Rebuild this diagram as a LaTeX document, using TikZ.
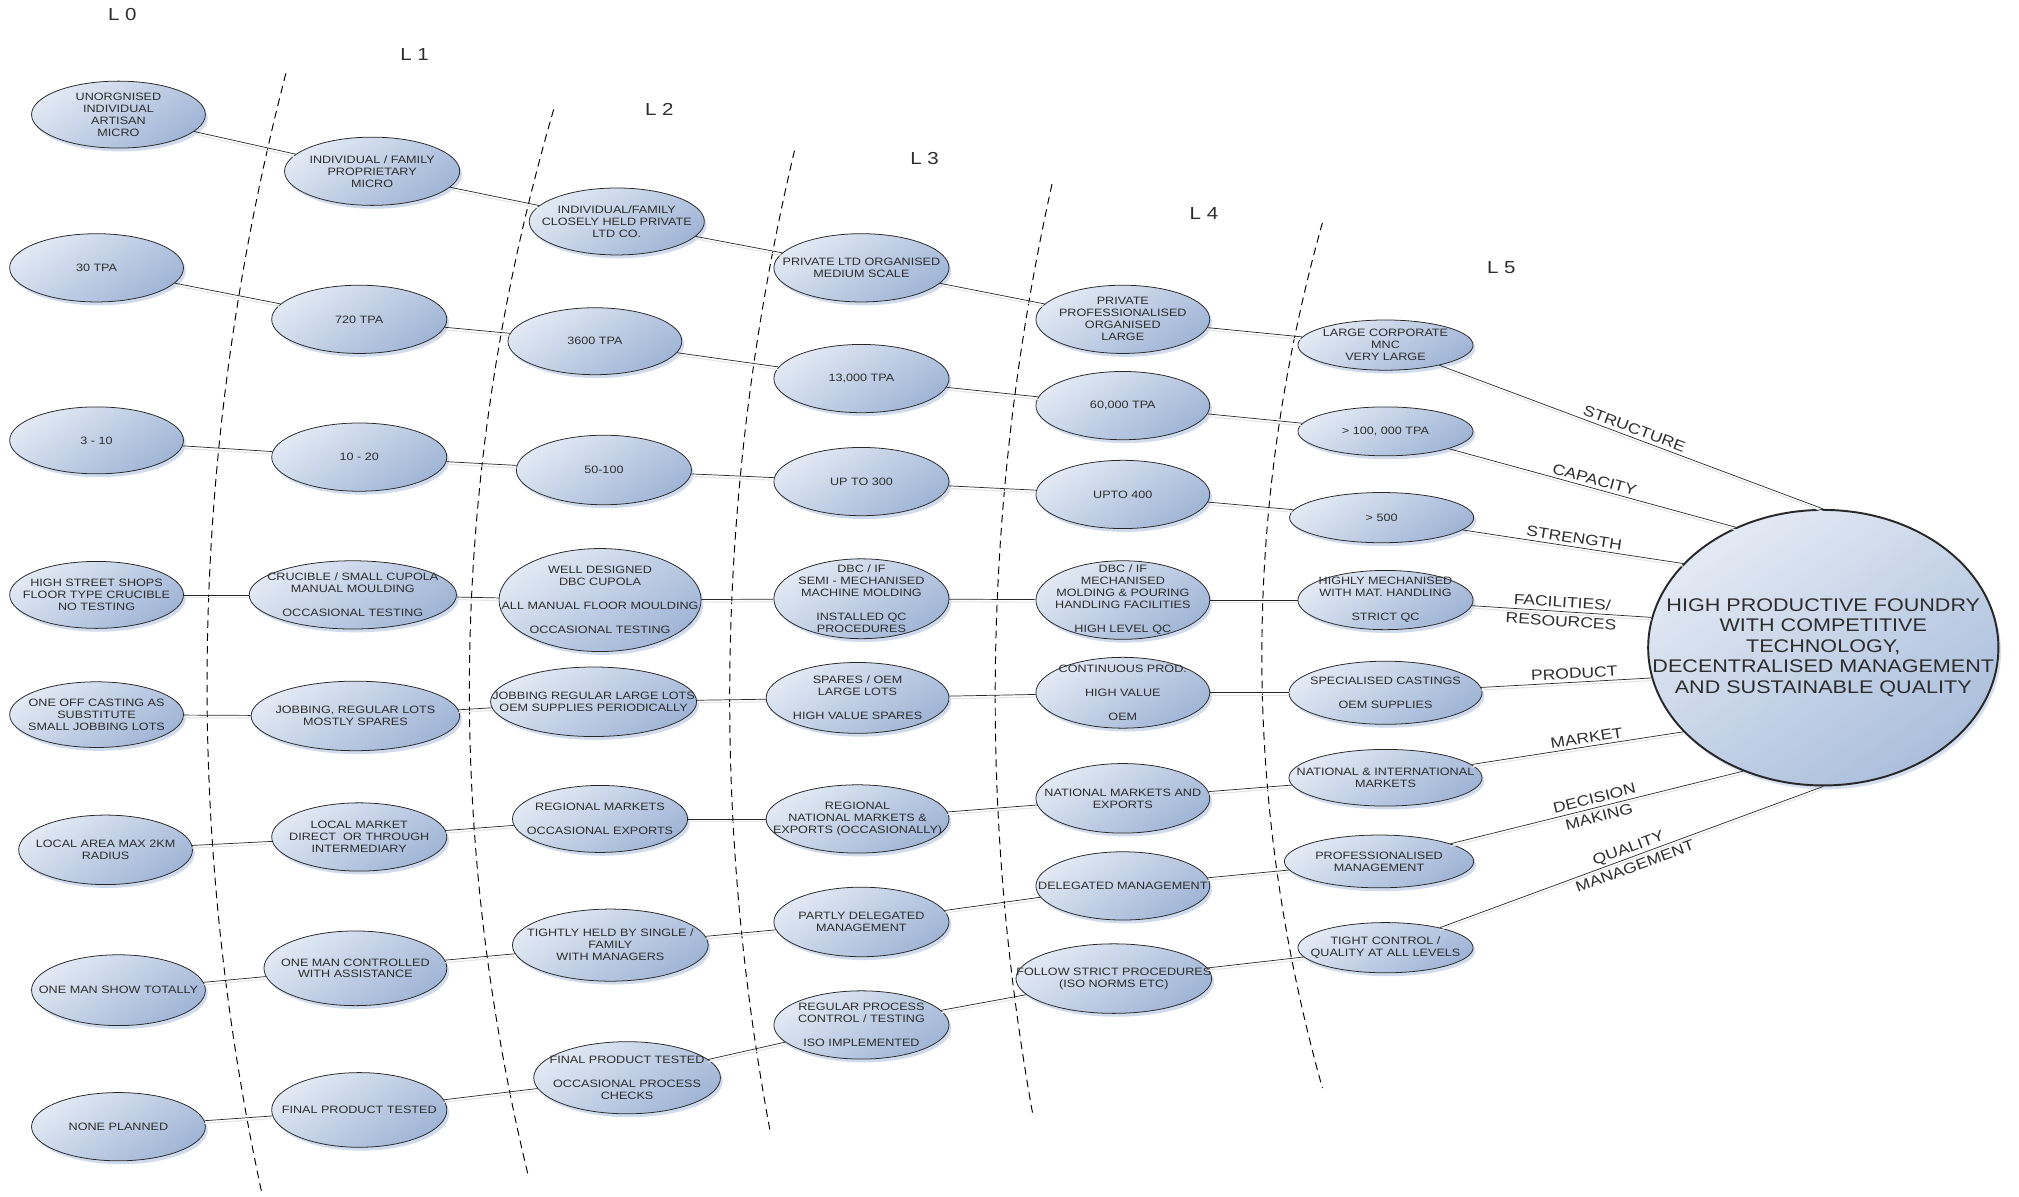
\documentclass[tikz,border=0pt]{standalone}
\usepackage{fontspec}
\setmainfont{Liberation Sans}[FakeStretch=1.18]
\usetikzlibrary{shapes.geometric,shadows}
\definecolor{elltop}{RGB}{226,233,244}
\definecolor{ellbot}{RGB}{160,181,214}
\definecolor{shd}{RGB}{196,210,232}
\definecolor{edgec}{RGB}{40,40,40}
\definecolor{bigtop}{RGB}{228,234,244}
\definecolor{bigbot}{RGB}{170,190,220}
\definecolor{inkc}{RGB}{45,45,45}
\newcommand\ovalnode[5]{%
  \node[oval, minimum width=#3pt, minimum height=#4pt] (#1) at #2 {};
  \node[txt] (#1t) at (#1.center) {#5};}
\tikzset{
  oval/.style={ellipse, draw=edgec, line width=0.6pt, top color=elltop, bottom color=ellbot,
    shading angle=35, inner sep=0pt,
    drop shadow={shadow xshift=1.8pt, shadow yshift=-2.6pt, fill=shd, opacity=0.8}},
  bigoval/.style={ellipse, draw=edgec, line width=1.5pt, top color=bigtop, bottom color=bigbot,
    shading angle=35, inner sep=0pt,
    drop shadow={shadow xshift=2pt, shadow yshift=-3pt, fill=shd, opacity=0.7}},
  txt/.style={align=center, inner sep=0pt, text=inkc, font=\fontsize{8.3}{9.3}\selectfont},
  bigtxt/.style={align=center, inner sep=0pt, text=inkc, font=\fontsize{14.2}{16}\selectfont},
  conn/.style={draw=edgec, line width=0.55pt,
    preaction={draw=black!10, line width=0.9pt, transform canvas={yshift=-2pt}}},
  dashsep/.style={draw=black, line width=0.75pt, dash pattern=on 6pt off 4pt},
  lbl/.style={font=\fontsize{11.5}{14}\selectfont, inner sep=2.5pt, text=inkc},
  lbltwo/.style={font=\fontsize{11.5}{15}\selectfont, inner sep=0pt, align=center, text=inkc},
  lvl/.style={font=\fontsize{13.5}{15}\selectfont, text=inkc}
}
\begin{document}
\begin{tikzpicture}[x=1pt,y=-1pt]
\useasboundingbox (0,0) rectangle (1568,929);

% level separators
\draw[dashsep] (222,57) .. controls (147.3,346.3) and (141,635.7) .. (203,925);
\draw[dashsep] (430,85) .. controls (350,360.3) and (343.3,636) .. (410,912);
\draw[dashsep] (617,117) .. controls (557,370.3) and (550.7,624) .. (598,878);
\draw[dashsep] (817,143) .. controls (763.7,383.7) and (758.7,624.3) .. (802,865);
\draw[dashsep] (1027,173) .. controls (964.3,397) and (964.3,621) .. (1027,845);

% level labels
\node[lvl] (l0) at (95,11) {L 0};
\node[lvl] (l1) at (322,42) {L 1};
\node[lvl] (l2) at (512,85) {L 2};
\node[lvl] (l3) at (718,123) {L 3};
\node[lvl] (l4) at (935,166) {L 4};
\node[lvl] (l5) at (1166,208) {L 5};

% L0
\ovalnode{a1}{(92,89)}{135}{52}{UNORGNISED\\INDIVIDUAL\\ARTISAN\\MICRO}
\ovalnode{a2}{(75,208)}{135}{53}{30 TPA}
\ovalnode{a3}{(75,342)}{135}{52}{3 - 10}
\ovalnode{a4}{(75,462)}{135}{52}{HIGH STREET SHOPS\\FLOOR TYPE CRUCIBLE\\NO TESTING}
\ovalnode{a5}{(75,555)}{135}{51}{ONE OFF CASTING AS\\SUBSTITUTE\\SMALL JOBBING LOTS}
\ovalnode{a6}{(82,660)}{135}{54}{LOCAL AREA MAX 2KM\\RADIUS}
\ovalnode{a7}{(92,769)}{135}{55}{ONE MAN SHOW TOTALLY}
\ovalnode{a8}{(92,875)}{135}{53}{NONE PLANNED}

% L1
\ovalnode{b1}{(289,133)}{136}{53}{INDIVIDUAL / FAMILY\\PROPRIETARY\\MICRO}
\ovalnode{b2}{(279,248)}{136}{53}{720 TPA}
\ovalnode{b3}{(279,355)}{136}{53}{10 - 20}
\ovalnode{b4}{(274,462)}{161}{53}{CRUCIBLE / SMALL CUPOLA\\MANUAL MOULDING\\[9.3pt]OCCASIONAL TESTING}
\ovalnode{b5}{(276,556)}{162}{54}{JOBBING, REGULAR LOTS\\MOSTLY SPARES}
\ovalnode{b6}{(279,650)}{136}{53}{LOCAL MARKET\\DIRECT~ OR THROUGH\\INTERMEDIARY}
\ovalnode{b7}{(276,752)}{142}{58}{ONE MAN CONTROLLED\\WITH ASSISTANCE}
\ovalnode{b8}{(279,862)}{136}{58}{FINAL PRODUCT TESTED}

% L2
\ovalnode{c1}{(479,172)}{136}{52}{INDIVIDUAL/FAMILY\\CLOSELY HELD PRIVATE\\LTD CO.}
\ovalnode{c2}{(462,265)}{135}{52}{3600 TPA}
\ovalnode{c3}{(469,365)}{136}{54}{50-100}
\ovalnode{c4}{(466,466)}{157}{80}{WELL DESIGNED\\DBC CUPOLA\\[9.3pt]ALL MANUAL FLOOR MOULDING\\[9.3pt]OCCASIONAL TESTING}
\ovalnode{c5}{(461,545)}{160}{54}{JOBBING REGULAR LARGE LOTS\\OEM SUPPLIES PERIODICALLY}
\ovalnode{c6}{(466,636)}{136}{52}{REGIONAL MARKETS\\[9.3pt]OCCASIONAL EXPORTS}
\ovalnode{c7}{(474,734)}{152}{56}{TIGHTLY HELD BY SINGLE /\\FAMILY\\WITH MANAGERS}
\ovalnode{c8}{(487,837)}{145}{56}{FINAL PRODUCT TESTED\\[9.3pt]OCCASIONAL PROCESS\\CHECKS}

% L3
\ovalnode{d1}{(669,208)}{136}{53}{PRIVATE LTD ORGANISED\\MEDIUM SCALE}
\ovalnode{d2}{(669,294)}{136}{53}{13,000 TPA}
\ovalnode{d3}{(669,374)}{136}{53}{UP TO 300}
\ovalnode{d4}{(669,465)}{136}{62}{DBC / IF\\SEMI - MECHANISED\\MACHINE MOLDING\\[9.3pt]INSTALLED QC\\PROCEDURES}
\ovalnode{d5}{(666,542)}{142}{55}{SPARES / OEM\\LARGE LOTS\\[9.3pt]HIGH VALUE SPARES}
\ovalnode{d6}{(666,636)}{142}{53}{REGIONAL\\NATIONAL MARKETS \&\\EXPORTS (OCCASIONALLY)}
\ovalnode{d7}{(669,716)}{136}{54}{PARTLY DELEGATED\\MANAGEMENT}
\ovalnode{d8}{(669,796)}{136}{53}{REGULAR PROCESS\\CONTROL / TESTING\\[9.3pt]ISO IMPLEMENTED}

% L4
\ovalnode{e1}{(872,248)}{135}{53}{PRIVATE\\PROFESSIONALISED\\ORGANISED\\LARGE}
\ovalnode{e2}{(872,315)}{135}{53}{60,000 TPA}
\ovalnode{e3}{(872,384)}{135}{53}{UPTO 400}
\ovalnode{e4}{(872,466)}{135}{61}{DBC / IF\\MECHANISED\\MOLDING \& POURING\\HANDLING FACILITIES\\[9.3pt]HIGH LEVEL QC}
\ovalnode{e5}{(872,538)}{135}{55}{CONTINUOUS PROD.\\[9.3pt]HIGH VALUE\\[9.3pt]OEM}
\ovalnode{e6}{(872,620)}{135}{54}{NATIONAL MARKETS AND\\EXPORTS}
\ovalnode{e7}{(872,688)}{135}{53}{DELEGATED MANAGEMENT}
\ovalnode{e8}{(865,760)}{152}{54}{FOLLOW STRICT PROCEDURES\\(ISO NORMS ETC)}

% L5
\ovalnode{f1}{(1076,268)}{136}{39}{LARGE CORPORATE\\MNC\\VERY LARGE}
\ovalnode{f2}{(1076,335)}{136}{38}{> 100, 000 TPA}
\ovalnode{f3}{(1073,402)}{143}{39}{> 500}
\ovalnode{f4}{(1076,466)}{136}{46}{HIGHLY MECHANISED\\WITH MAT. HANDLING\\[9.3pt]STRICT QC}
\ovalnode{f5}{(1076,538)}{150}{49}{SPECIALISED CASTINGS\\[9.3pt]OEM SUPPLIES}
\ovalnode{f6}{(1076,604)}{150}{44}{NATIONAL \& INTERNATIONAL\\MARKETS}
\ovalnode{f7}{(1071,669)}{147}{41}{PROFESSIONALISED\\MANAGEMENT}
\ovalnode{f8}{(1076,736)}{136}{39}{TIGHT CONTROL /\\QUALITY AT ALL LEVELS}

% goal
\node[bigoval, minimum width=272pt, minimum height=214pt] (goal) at (1416,503) {};
\node[bigtxt] (goalt) at (goal.center) {HIGH PRODUCTIVE FOUNDRY\\WITH COMPETITIVE\\TECHNOLOGY,\\DECENTRALISED MANAGEMENT\\AND SUSTAINABLE QUALITY};

% row connectors
\foreach \r in {1,...,8}{
  \draw[conn] (a\r) -- (b\r);
  \draw[conn] (b\r) -- (c\r);
  \draw[conn] (c\r) -- (d\r);
  \draw[conn] (d\r) -- (e\r);
  \draw[conn] (e\r) -- (f\r);
}

% links to goal
\draw[conn] (f1) -- (goal.90) node[lbl, midway, above, sloped] {STRUCTURE};
\draw[conn] (f2) -- (goal.126) node[lbl, midway, above, sloped] {CAPACITY};
\draw[conn] (f3) -- (goal.149) node[lbl, midway, above, sloped] {STRENGTH};
\draw[conn] (f4) -- (goal.170) node[lbltwo, midway, sloped] {FACILITIES/\\RESOURCES};
\draw[conn] (f5) -- (goal.190) node[lbl, pos=0.55, above, sloped] {PRODUCT};
\draw[conn] (f6) -- (goal.211) node[lbl, pos=0.55, above, sloped] {MARKET};
\draw[conn] (f7) -- (goal.237) node[lbltwo, midway, sloped] {DECISION\\MAKING};
\draw[conn] (f8) -- (goal.270) node[lbltwo, midway, sloped] {QUALITY\\MANAGEMENT};
\end{tikzpicture}
\end{document}
